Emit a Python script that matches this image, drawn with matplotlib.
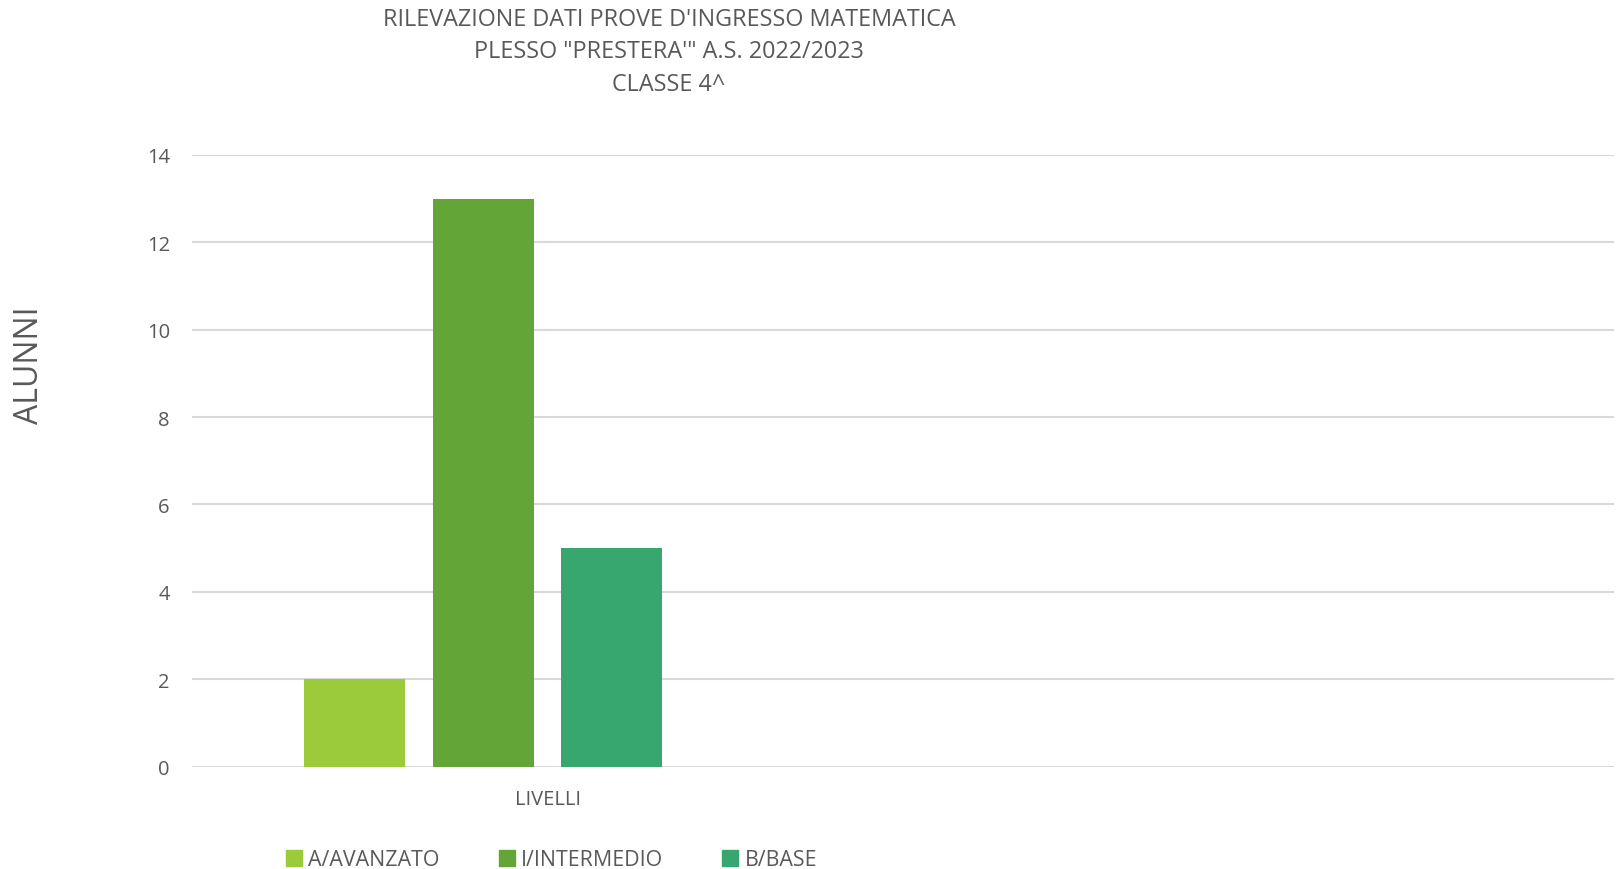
import matplotlib
matplotlib.use("Agg")
import matplotlib.pyplot as plt
from matplotlib.patches import Patch

# data
categories = ["LIVELLI", ""]
series_names = ["A/AVANZATO", "I/INTERMEDIO", "B/BASE"]
series_values = [[2, None], [13, None], [5, None]]
colors = ["#9BCB3A", "#63A537", "#37A76F"]
yticks = [0, 2, 4, 6, 8, 10, 12, 14]

plt.rcParams['font.family'] = ['Open Sans', 'DejaVu Sans']
txt = "#595959"

fig = plt.figure(figsize=(16.22, 8.7), dpi=100)
ax = fig.add_axes([0.1184, 0.1178, 0.8766, 0.7029])

# 4 series slots per category in the original (last one empty)
width = 0.142
offsets = [-0.271, -0.090, 0.090]
for i, name in enumerate(series_names):
    for j, v in enumerate(series_values[i]):
        if v is None:
            continue
        ax.bar(j + offsets[i], v, width=width, color=colors[i], zorder=3)

ax.set_xlim(-0.5, 1.5)
ax.set_ylim(0, 14)
ax.set_yticks(yticks)
ax.set_xticks(range(len(categories)))
ax.set_xticklabels(categories)
ax.grid(axis="y", color="#D9D9D9", linewidth=1.5, zorder=0)
for s in ax.spines.values():
    s.set_visible(False)
ax.tick_params(axis="both", length=0, labelsize=14.5, labelcolor=txt)
ax.tick_params(axis="y", pad=16)
ax.tick_params(axis="x", pad=16.5)

fig.text(29 / 1622, 1 - 365 / 870, "ALUNNI", rotation=90,
         ha="center", va="center", fontsize=23, color=txt)

fig.text(669 / 1622, 1 - 20 / 870, "RILEVAZIONE DATI PROVE D'INGRESSO MATEMATICA",
         ha="center", va="center", fontsize=16.8, color=txt)
fig.text(669 / 1622, 1 - 52 / 870, "PLESSO \"PRESTERA'\" A.S. 2022/2023",
         ha="center", va="center", fontsize=16.8, color=txt)
fig.text(669 / 1622, 1 - 85 / 870, "CLASSE 4^",
         ha="center", va="center", fontsize=16.8, color=txt)

handles = [Patch(color=c) for c in colors]
fig.legend(handles, series_names, loc="center left",
           bbox_to_anchor=(286 / 1622, 1 - 861 / 870), ncol=3, frameon=False,
           fontsize=15.4, labelcolor=txt, handlelength=0.75, handleheight=0.75,
           handletextpad=0.3, columnspacing=2.75, borderpad=0, borderaxespad=0)

fig.savefig("out.png", dpi=100)
